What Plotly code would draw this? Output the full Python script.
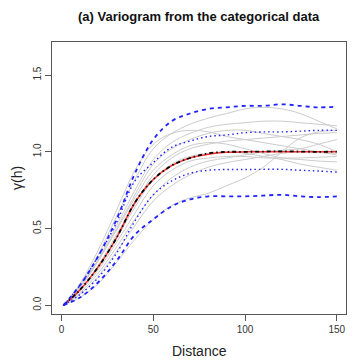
import plotly.graph_objects as go

# Lag distances
dist = [1, 10, 20, 30, 40, 50, 60, 70, 80, 90, 100, 110, 120, 130, 140, 150]

# Simulated variograms (grey)
sim_1 = [0.0, 0.13, 0.33, 0.58, 0.82, 1.02, 1.12, 1.18, 1.22, 1.25, 1.28, 1.29, 1.28, 1.25, 1.20, 1.15]
sim_2 = [0.0, 0.14, 0.36, 0.62, 0.88, 1.05, 1.12, 1.14, 1.13, 1.10, 1.08, 1.06, 1.04, 1.02, 1.00, 0.98]
sim_3 = [0.0, 0.12, 0.30, 0.52, 0.75, 0.95, 1.06, 1.12, 1.16, 1.18, 1.19, 1.20, 1.20, 1.19, 1.18, 1.17]
sim_4 = [0.0, 0.11, 0.29, 0.50, 0.72, 0.92, 1.02, 1.08, 1.12, 1.14, 1.14, 1.12, 1.10, 1.08, 1.05, 1.00]
sim_5 = [0.0, 0.12, 0.29, 0.49, 0.70, 0.88, 0.98, 1.04, 1.06, 1.05, 1.02, 0.99, 0.96, 0.95, 0.94, 0.935]
sim_6 = [0.0, 0.10, 0.26, 0.46, 0.66, 0.85, 0.96, 1.02, 1.05, 1.07, 1.08, 1.09, 1.10, 1.11, 1.12, 1.125]
sim_7 = [0.0, 0.10, 0.25, 0.44, 0.64, 0.82, 0.92, 0.97, 0.99, 1.00, 0.99, 0.97, 0.95, 0.92, 0.90, 0.88]
sim_8 = [0.0, 0.09, 0.23, 0.41, 0.60, 0.78, 0.88, 0.94, 0.96, 0.97, 0.97, 0.96, 0.96, 0.96, 0.965, 0.97]
sim_9 = [0.0, 0.08, 0.21, 0.38, 0.56, 0.72, 0.83, 0.90, 0.94, 0.96, 0.98, 1.00, 1.01, 1.02, 1.05, 1.08]
sim_10 = [0.0, 0.05, 0.14, 0.28, 0.43, 0.56, 0.65, 0.70, 0.73, 0.78, 0.83, 0.90, 1.00, 1.09, 1.13, 1.14]
sim_11 = [0.0, 0.07, 0.19, 0.35, 0.52, 0.68, 0.78, 0.85, 0.90, 0.93, 0.95, 0.97, 0.99, 1.00, 0.995, 0.99]
sims = [sim_1, sim_2, sim_3, sim_4, sim_5, sim_6, sim_7, sim_8, sim_9, sim_10, sim_11]

# Model (red) and mean of simulations (black)
model = [0.0, 0.10, 0.25, 0.44, 0.67, 0.82, 0.91, 0.96, 0.985, 0.997, 1.0, 1.0, 1.0, 1.0, 1.0, 1.0]
sim_mean = [0.0, 0.10, 0.25, 0.44, 0.67, 0.82, 0.91, 0.96, 0.99, 1.0, 1.0, 1.002, 1.003, 1.002, 1.0, 1.002]

# Envelopes (blue)
upper_env = [0.0, 0.13, 0.32, 0.56, 0.86, 1.08, 1.20, 1.25, 1.28, 1.29, 1.30, 1.30, 1.31, 1.30, 1.29, 1.295]
lower_env = [0.0, 0.05, 0.15, 0.29, 0.46, 0.56, 0.645, 0.69, 0.71, 0.71, 0.71, 0.715, 0.72, 0.71, 0.705, 0.71]
upper_q = [0.0, 0.13, 0.32, 0.54, 0.81, 0.93, 1.03, 1.07, 1.10, 1.11, 1.125, 1.13, 1.13, 1.135, 1.14, 1.14]
lower_q = [0.0, 0.07, 0.18, 0.34, 0.55, 0.72, 0.81, 0.86, 0.88, 0.885, 0.885, 0.886, 0.886, 0.88, 0.875, 0.868]

fig = go.Figure()
for s in sims:
    fig.add_trace(go.Scatter(x=dist, y=s, mode="lines", line=dict(color="#cccccc", width=1, shape="spline", smoothing=1.0),
                             hoverinfo="skip", showlegend=False))
fig.add_trace(go.Scatter(x=dist, y=model, mode="lines", line=dict(color="#ff3030", width=1.5, shape="spline"), showlegend=False))
fig.add_trace(go.Scatter(x=dist, y=sim_mean, mode="lines", line=dict(color="black", width=1.8, dash="4px,3px,1.5px,3px", shape="spline"), showlegend=False))
for s, d in [(upper_env, "4px,4px"), (lower_env, "4px,4px"), (upper_q, "1.5px,3px"), (lower_q, "1.5px,3px")]:
    w = 1.8 if d == "4px,4px" else 1.4
    fig.add_trace(go.Scatter(x=dist, y=s, mode="lines", line=dict(color="#2222ff", width=w, dash=d, shape="spline"), showlegend=False))

font = "Liberation Sans, Arial, sans-serif"
# page body has an 8px margin, so the figure is 352x352 and offset accordingly
fig.update_layout(
    width=352, height=352,
    margin=dict(l=44, r=14, t=34, b=46),
    paper_bgcolor="white", plot_bgcolor="white",
    font=dict(family=font, color="#222"),
    xaxis=dict(range=[-5.2, 155], tickvals=[0, 50, 100, 150], ticktext=["0", "50", "100", "150"],
               showgrid=False, zeroline=False, showline=True, mirror=True, linecolor="#555", linewidth=1,
               ticks="outside", ticklen=6, tickcolor="#555", tickfont=dict(size=10, color="#333")),
    yaxis=dict(range=[-0.057, 1.716], tickvals=[0, 0.5, 1.0, 1.5], ticktext=["0.0", "0.5", "1.0", "1.5"],
               tickangle=-90,
               showgrid=False, zeroline=False, showline=True, mirror=True, linecolor="#555", linewidth=1,
               ticks="outside", ticklen=6, tickcolor="#555", tickfont=dict(size=10, color="#333")),
    annotations=[
        dict(text="<b>(a) Variogram from the categorical data</b>", x=0.5, y=1.095, xref="paper", yref="paper",
             showarrow=False, font=dict(size=13, color="#111", family=font), xanchor="center", yanchor="middle"),
        dict(text="Distance", x=0.5, y=-0.136, xref="paper", yref="paper", showarrow=False,
             font=dict(size=14, color="#222", family=font), xanchor="center", yanchor="middle"),
        dict(text="γ(h)", x=-0.119, y=0.5, xref="paper", yref="paper", showarrow=False, textangle=-90,
             font=dict(size=14, color="#222", family=font), xanchor="center", yanchor="middle"),
    ],
)
fig.write_html("out.html")
